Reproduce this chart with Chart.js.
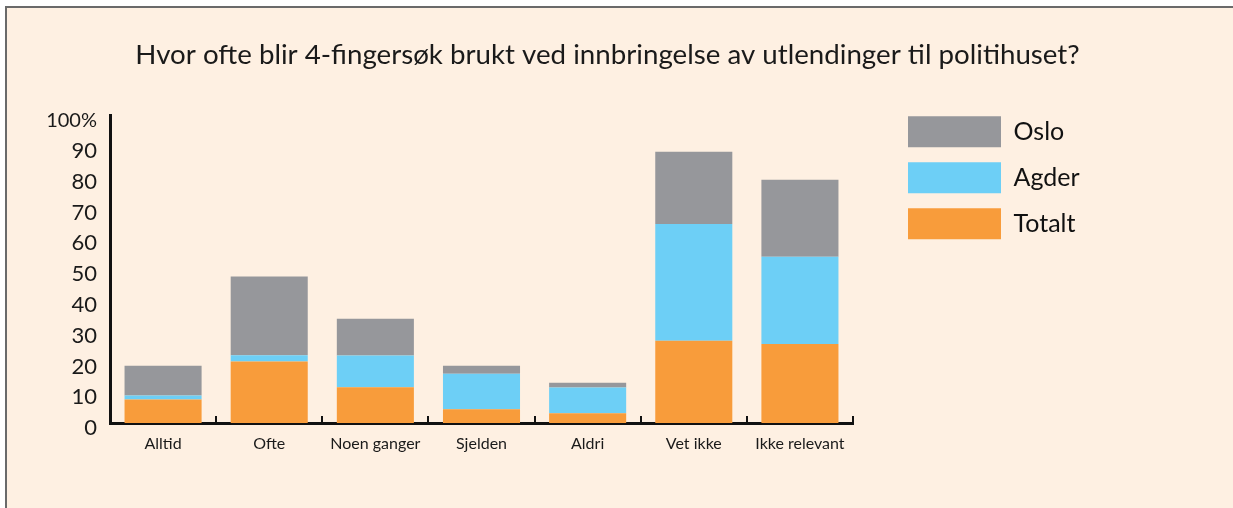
<!DOCTYPE html>
<html>
<head>
<meta charset="utf-8">
<title>4-fingersøk</title>
<script src="https://cdn.jsdelivr.net/npm/chart.js@4/dist/chart.umd.min.js"></script>
<style>
  html, body { margin: 0; padding: 0; background: #ffffff; }
  #frame {
    position: absolute; left: 5px; top: 6px; right: 0; bottom: 0;
    background: #fef0e2;
    border-left: 2px solid #6a6a6a;
    border-top: 2px solid #6a6a6a;
  }
  #chart { position: absolute; left: 0; top: 0; }
</style>
</head>
<body>
<div id="frame"></div>
<canvas id="chart" width="1233" height="508"></canvas>
<script>
// chart data
var categories = ["Alltid", "Ofte", "Noen ganger", "Sjelden", "Aldri", "Vet ikke", "Ikke relevant"];
var totalt = [7.6, 20, 11.6, 4.5, 3.2, 26.7, 25.7];
var agder = [1.3, 2, 10.3, 11.5, 8.3, 38, 28.3];
var oslo = [9.7, 25.6, 12, 2.6, 1.6, 23.4, 25];
var yTicks = [0, 10, 20, 30, 40, 50, 60, 70, 80, 90, 100];

var fontName = "Lato";

// fixed legend width, then move the legend to where it sits in the original
var legendPlacement = {
  id: "legendPlacement",
  beforeInit: function (chart) {
    var fit = chart.legend.fit;
    chart.legend.fit = function () {
      fit.call(this);
      this.width = 322;
    };
  },
  afterLayout: function (chart) {
    var lg = chart.legend;
    var w = lg.width, h = lg.height;
    lg.left = chart.chartArea.right + 40;
    lg.right = lg.left + w;
    lg.top = chart.chartArea.top - 14;
    lg.bottom = lg.top + h;
  }
};

window.onload = function () {
  var ctx = document.getElementById("chart").getContext("2d");
  var chart = new Chart(ctx, {
    type: "bar",
    data: {
      labels: categories,
      datasets: [
        { label: "Totalt", data: totalt, backgroundColor: "#f89c3b" },
        { label: "Agder", data: agder, backgroundColor: "#6dcff6" },
        { label: "Oslo", data: oslo, backgroundColor: "#96979b" }
      ]
    },
    options: {
      responsive: false,
      animation: false,
      layout: { padding: { left: 40, right: 58, top: 38, bottom: 45 } },
      datasets: {
        bar: { barPercentage: 0.726, categoryPercentage: 1, borderWidth: 0 }
      },
      plugins: {
        title: {
          display: true,
          text: "Hvor ofte blir 4-fingersøk brukt ved innbringelse av utlendinger til politihuset?",
          color: "#1a1a1a",
          font: { family: fontName, size: 27.7, weight: "normal", lineHeight: 1.2 },
          padding: { top: 0, bottom: 44 }
        },
        legend: {
          position: "right",
          align: "start",
          reverse: true,
          labels: {
            boxWidth: 93,
            boxHeight: 31,
            padding: 15,
            color: "#111111",
            font: { family: fontName, size: 25 }
          }
        },
        tooltip: { enabled: false }
      },
      scales: {
        x: {
          stacked: true,
          afterFit: function (s) { s.height = 40; },
          grid: {
            offset: true,
            drawOnChartArea: false,
            drawTicks: true,
            tickLength: -7,
            color: "#111111",
            lineWidth: 2
          },
          border: { color: "#111111", width: 3 },
          ticks: {
            color: "#1a1a1a",
            padding: 18,
            font: { family: fontName, size: 16 }
          }
        },
        y: {
          stacked: true,
          min: 0,
          max: 100,
          afterFit: function (s) { s.width = 70; },
          afterBuildTicks: function (s) {
            s.ticks = yTicks.map(function (v) { return { value: v }; });
          },
          grid: { display: false, drawTicks: false },
          border: { color: "#111111", width: 3 },
          ticks: {
            color: "#1a1a1a",
            padding: 13,
            labelOffset: 5,
            font: function (c) {
              return { family: fontName, size: c.tick && c.tick.value === 100 ? 20 : 22 };
            },
            callback: function (v) { return v === 100 ? "100%" : v; }
          }
        }
      }
    },
    plugins: [legendPlacement]
  });
};
</script>
</body>
</html>
